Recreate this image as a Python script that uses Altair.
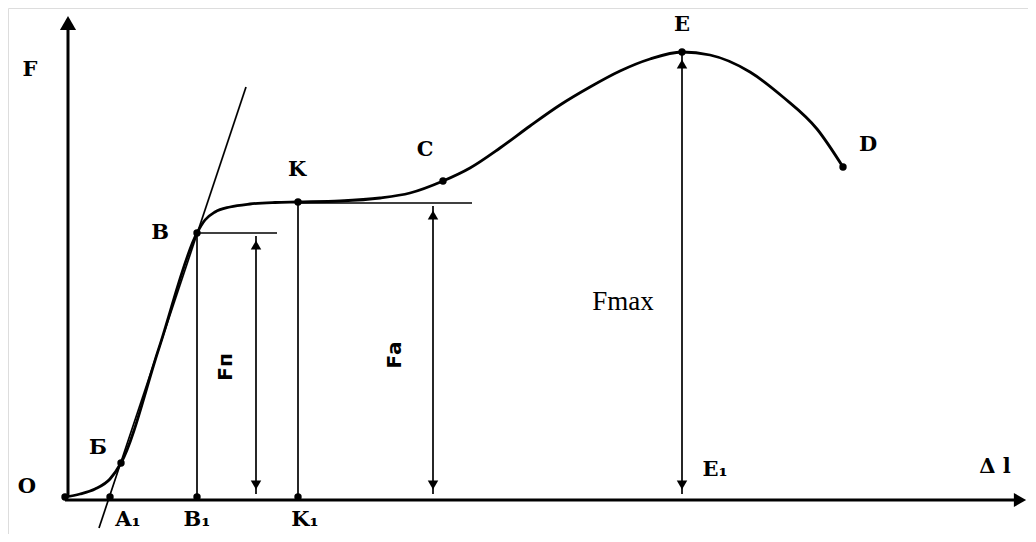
import altair as alt
import pandas as pd

# Coordinates: x = elongation (Δl), y = force F, in arbitrary diagram units
curve_x = [0, 15, 30, 45, 56, 94, 132, 140, 150, 165, 185, 210, 233, 275, 315, 345, 378,
           405, 435, 465, 495, 525, 555, 585, 617, 645, 685, 718, 752, 778]
curve_y = [0, 3, 8, 18, 34, 149, 264, 277, 285, 290, 293, 294.5, 295, 296, 299, 304, 316,
           329, 349, 371, 392, 410, 426, 438, 445, 442, 425, 400, 368, 330]

# straight segments: x, y, x2, y2
seg_x = [34, 132, 132, 233, 233]
seg_y = [-31, 264, 0, 0, 294]
seg_x2 = [181, 212, 132, 233, 407]
seg_y2 = [410, 264, 264, 295, 294]

# double arrows (vertical), x position, bottom, top
arr_x = [191, 368, 617]
arr_y0 = [3, 3, 3]
arr_y1 = [261, 291, 442]

# marked points
pt_x = [0, 56, 45, 132, 132, 233, 233, 378, 617, 778]
pt_y = [0, 34, 0, 264, 0, 295, 0, 316, 445, 330]

# labels
lab_text = ["F", "O", "Б", "A₁", "B₁", "K₁", "B", "K", "C", "E", "D", "E₁", "Δ l"]
lab_x = [-35, -38, 33, 63, 132, 240, 95, 232, 360, 617, 803, 650, 930]
lab_y = [427, 10, 49, -23, -23, -23, 264, 327, 347, 472, 352, 27, 30]

rot_text = ["Fп", "Fа"]
rot_x = [161, 330]
rot_y = [130, 142]

W, H = 1020, 526
xs = alt.Scale(domain=[-57, 963], range=[0, W], nice=False, zero=False)
ys = alt.Scale(domain=[-37, 489], range=[H, 0], nice=False, zero=False)
X = lambda f: alt.X(f, type="quantitative", scale=xs, axis=None)
Y = lambda f: alt.Y(f, type="quantitative", scale=ys, axis=None)

curve = pd.DataFrame({"x": curve_x, "y": curve_y, "o": range(len(curve_x))})
segs = pd.DataFrame({"x": seg_x, "y": seg_y, "x2": seg_x2, "y2": seg_y2})
axes = pd.DataFrame({"x": [3, 0], "y": [0, -3], "x2": [3, 957], "y2": [476, -3]})
arrows = pd.DataFrame({"x": arr_x, "y": arr_y0, "y2": arr_y1})
pts = pd.DataFrame({"x": pt_x, "y": pt_y})
labs = pd.DataFrame({"t": lab_text, "x": lab_x, "y": lab_y})
rots = pd.DataFrame({"t": rot_text, "x": rot_x, "y": rot_y})

heads_up = pd.DataFrame({"x": arr_x + [3], "y": [v - 9 for v in arr_y1] + [474],
                         "s": [110, 110, 110, 260]})
heads_dn = pd.DataFrame({"x": arr_x, "y": [v + 9 for v in arr_y0]})
head_rt = pd.DataFrame({"x": [955], "y": [-3]})

line = alt.Chart(curve).mark_line(color="black", strokeWidth=2.8, interpolate="monotone").encode(
    x=X("x"), y=Y("y"), order="o:Q")
seg = alt.Chart(segs).mark_rule(color="black", strokeWidth=1.7).encode(
    x=X("x"), y=Y("y"), x2="x2:Q", y2="y2:Q")
ax = alt.Chart(axes).mark_rule(color="black", strokeWidth=3).encode(
    x=X("x"), y=Y("y"), x2="x2:Q", y2="y2:Q")
arr = alt.Chart(arrows).mark_rule(color="black", strokeWidth=1.7).encode(
    x=X("x"), y=Y("y"), y2="y2:Q")
hu = alt.Chart(heads_up).mark_point(shape="triangle-up", filled=True, color="black", opacity=1).encode(
    x=X("x"), y=Y("y"), size=alt.Size("s:Q", scale=None, legend=None))
hd = alt.Chart(heads_dn).mark_point(shape="triangle-down", filled=True, color="black", opacity=1, size=110).encode(
    x=X("x"), y=Y("y"))
hr = alt.Chart(head_rt).mark_point(shape="triangle-right", filled=True, color="black", opacity=1, size=200).encode(
    x=X("x"), y=Y("y"))
dots = alt.Chart(pts).mark_circle(color="black", opacity=1, size=55).encode(x=X("x"), y=Y("y"))
txt = alt.Chart(labs).mark_text(font="DejaVu Serif", fontSize=21, fontWeight="bold", color="black").encode(
    x=X("x"), y=Y("y"), text="t:N")
fmax = alt.Chart(pd.DataFrame({"t": ["Fmax"], "x": [558], "y": [195]})).mark_text(
    font="Liberation Serif", fontSize=27, color="black").encode(x=X("x"), y=Y("y"), text="t:N")
rt = alt.Chart(rots).mark_text(font="DejaVu Sans", fontSize=20, fontWeight="bold", angle=270, color="black").encode(
    x=X("x"), y=Y("y"), text="t:N")

chart = alt.layer(ax, seg, arr, line, hu, hd, hr, dots, txt, fmax, rt).properties(
    width=W, height=H, padding=0, autosize=alt.AutoSizeParams(type="none")
).configure_view(stroke=None).configure(background="white")

chart.save("out.html", embed_options={"renderer": "svg", "actions": False})
